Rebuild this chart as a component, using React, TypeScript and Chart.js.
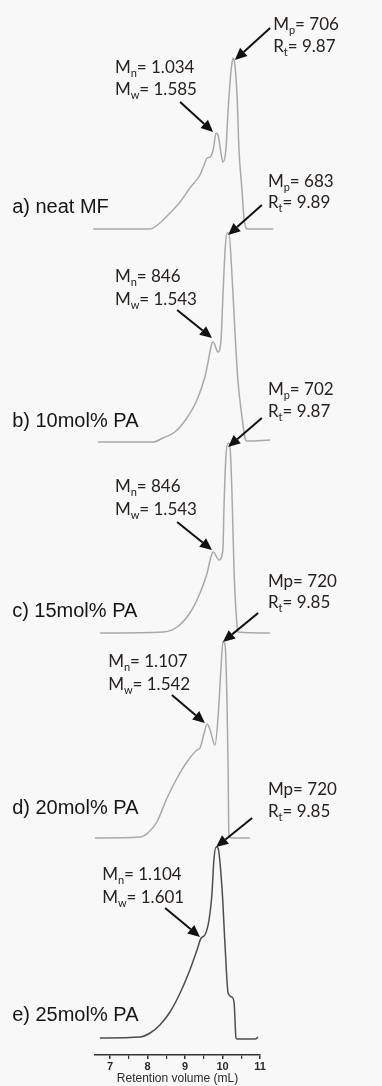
import { useEffect, useRef } from 'react';
import { Chart, registerables } from 'chart.js';

Chart.register(...registerables);

// ---- data (retention volume in mL, detector signal in arbitrary units) ----
const volA = [6.55, 8.07, 8.33, 8.6, 8.87, 9.13, 9.4, 9.53, 9.59, 9.67, 9.75, 9.83, 9.88, 9.96, 10.01, 10.09, 10.15, 10.23, 10.28, 10.31, 10.39, 10.44, 10.52, 10.57, 10.63, 10.68, 11.35];
const sigA = [0, 0, 6, 16, 27, 41, 54, 66, 71, 72, 79, 96, 94, 76, 67, 79, 119, 159, 171, 169, 132, 79, 39, 12, 1, 0, 0];

const volB = [6.68, 8.15, 8.41, 8.73, 9.05, 9.32, 9.53, 9.61, 9.72, 9.75, 9.88, 9.96, 10.01, 10.07, 10.12, 10.17, 10.25, 10.33, 10.41, 10.52, 10.6, 10.65, 11.27];
const sigB = [0, 0, 4, 10, 24, 42, 65, 79, 99, 100, 90, 102, 145, 192, 209, 209, 169, 112, 62, 25, 4, 1, 2];

const volC = [6.73, 8.41, 8.79, 9.13, 9.4, 9.59, 9.69, 9.75, 9.91, 10.01, 10.04, 10.09, 10.15, 10.2, 10.25, 10.31, 10.39, 10.41, 11.27];
const sigC = [0, 1, 6, 20, 40, 60, 76, 81, 73, 83, 126, 176, 190, 186, 143, 60, 6, 1, 0];

const volD = [6.6, 7.8, 8.01, 8.25, 8.52, 8.79, 9.05, 9.32, 9.4, 9.51, 9.59, 9.67, 9.8, 9.88, 9.96, 10.01, 10.07, 10.12, 10.15, 10.17, 10.25, 10.73];
const sigD = [0, 1, 5, 16, 40, 60, 76, 88, 90, 105, 114, 108, 93, 120, 170, 196, 193, 136, 70, 3, 0, 0];

const volE = [6.73, 7.8, 8.07, 8.33, 8.6, 8.87, 9.13, 9.32, 9.43, 9.53, 9.64, 9.72, 9.77, 9.83, 9.88, 9.99, 10.07, 10.15, 10.25, 10.31, 10.36, 10.39, 10.87, 10.95];
const sigE = [0, 1, 5, 13, 26, 45, 68, 88, 100, 103, 118, 145, 178, 191, 190, 148, 91, 45, 41, 35, 0, -1, -1, 1];

const sampleNames = ['a) neat MF', 'b) 10mol% PA', 'c) 15mol% PA', 'd) 20mol% PA', 'e) 25mol% PA'];
const mpValues = ['706', '683', '702', '720', '720'];
const mpSubscript = [true, true, true, false, false];
const rtValues = ['9.87', '9.89', '9.87', '9.85', '9.85'];
const mnValues = ['1.034', '846', '846', '1.107', '1.104'];
const mwValues = ['1.585', '1.543', '1.543', '1.542', '1.601'];

const majorTicks = [7, 8, 9, 10, 11];
const minorTicks = [7.5, 8.5, 9.5, 10.5];

// ---- layout (vertical stacking offsets and annotation anchors, in data units) ----
const traceOffsets = [826, 613, 422, 217, 17];
const traceColors = ['#a9a9a9', '#a9a9a9', '#a9a9a9', '#a9a9a9', '#4d4d4d'];

const nameAnchor = { x: 4.39, y: [848, 634, 444, 247, 40] };
// [textX, line1Y, line2Y, tailX, tailY, tipX, tipY]
const mpAnchors = [
  [11.35, 1030, 1008, 11.27, 1027, 10.33, 995],
  [11.21, 873, 852, 11.05, 850, 10.15, 820],
  [11.21, 665, 643, 11.05, 637, 10.15, 608],
  [11.21, 473, 452, 10.95, 442, 10.01, 413],
  [11.21, 265, 243, 10.79, 237, 9.83, 208],
];
const mnAnchors = [
  [7.13, 987, 965, 8.87, 953, 9.75, 923],
  [7.13, 778, 755, 8.79, 745, 9.72, 717],
  [7.13, 568, 545, 8.79, 533, 9.72, 505],
  [6.95, 393, 370, 8.65, 360, 9.53, 332],
  [6.79, 180, 157, 8.47, 147, 9.4, 118],
];

const vols = [volA, volB, volC, volD, volE];
const sigs = [sigA, sigB, sigC, sigD, sigE];

const NOTE_FONT = '"Lato", "Liberation Sans", sans-serif';
const NOTE_COLOR = '#26221f';

type Seg = [string, boolean];

function drawRich(ctx: CanvasRenderingContext2D, x: number, y: number, segs: Seg[]) {
  let cx = x;
  ctx.textBaseline = 'middle';
  ctx.textAlign = 'left';
  for (const [t, sub] of segs) {
    ctx.font = sub ? `11px ${NOTE_FONT}` : `17px ${NOTE_FONT}`;
    ctx.fillText(t, cx, sub ? y + 5 : y);
    cx += ctx.measureText(t).width;
  }
}

function drawArrow(ctx: CanvasRenderingContext2D, x1: number, y1: number, x2: number, y2: number) {
  const ang = Math.atan2(y2 - y1, x2 - x1);
  const hl = 12;
  const hw = 5.5;
  const bx = x2 - hl * Math.cos(ang);
  const by = y2 - hl * Math.sin(ang);
  ctx.beginPath();
  ctx.moveTo(x1, y1);
  ctx.lineTo(bx, by);
  ctx.stroke();
  ctx.beginPath();
  ctx.moveTo(x2, y2);
  ctx.lineTo(bx + hw * Math.sin(ang), by - hw * Math.cos(ang));
  ctx.lineTo(bx - hw * Math.sin(ang), by + hw * Math.cos(ang));
  ctx.closePath();
  ctx.fill();
}

const bgPlugin = {
  id: 'bg',
  beforeDraw(chart: any) {
    const { ctx, width, height } = chart;
    ctx.save();
    ctx.fillStyle = '#f8f8f8';
    ctx.fillRect(0, 0, width, height);
    ctx.restore();
  },
};

const notesPlugin = {
  id: 'notes',
  afterDatasetsDraw(chart: any) {
    const { ctx } = chart;
    const xs = chart.scales.x;
    const ys = chart.scales.y;
    const px = (v: number) => xs.getPixelForValue(v);
    const py = (v: number) => ys.getPixelForValue(v);
    ctx.save();
    for (let i = 0; i < 5; i++) {
      // sample name
      ctx.fillStyle = '#161616';
      ctx.font = '20px "Liberation Sans", Arial, sans-serif';
      ctx.textBaseline = 'middle';
      ctx.textAlign = 'left';
      ctx.fillText(sampleNames[i], px(nameAnchor.x), py(nameAnchor.y[i]));

      ctx.fillStyle = NOTE_COLOR;
      const m = mpAnchors[i];
      const mpSegs: Seg[] = mpSubscript[i]
        ? [['M', false], ['p', true], ['= ' + mpValues[i], false]]
        : [['Mp= ' + mpValues[i], false]];
      drawRich(ctx, px(m[0]), py(m[1]), mpSegs);
      drawRich(ctx, px(m[0]), py(m[2]), [['R', false], ['t', true], ['= ' + rtValues[i], false]]);

      const n = mnAnchors[i];
      drawRich(ctx, px(n[0]), py(n[1]), [['M', false], ['n', true], ['= ' + mnValues[i], false]]);
      drawRich(ctx, px(n[0]), py(n[2]), [['M', false], ['w', true], ['= ' + mwValues[i], false]]);

      ctx.strokeStyle = '#111';
      ctx.fillStyle = '#111';
      ctx.lineWidth = 2;
      drawArrow(ctx, px(m[3]), py(m[4]), px(m[5]), py(m[6]));
      drawArrow(ctx, px(n[3]), py(n[4]), px(n[5]), py(n[6]));
    }
    ctx.restore();
  },
};

export default function App() {
  const ref = useRef<HTMLCanvasElement>(null);
  useEffect(() => {
    const canvas = ref.current;
    if (!canvas) return;
    const datasets = vols.map((v, i) => ({
      data: v.map((x, j) => ({ x, y: sigs[i][j] + traceOffsets[i] })),
      borderColor: traceColors[i],
      borderWidth: 1.5,
      pointRadius: 0,
      fill: false,
      cubicInterpolationMode: 'monotone' as const,
      clip: false as any,
    }));
    const chart = new Chart(canvas, {
      type: 'line',
      data: { datasets },
      options: {
        responsive: false,
        animation: false,
        layout: { padding: { left: 95, right: 122, top: 55, bottom: 0 } },
        plugins: { legend: { display: false }, tooltip: { enabled: false } },
        scales: {
          x: {
            type: 'linear',
            min: 6.6,
            max: 11,
            afterBuildTicks: (s: any) => {
              s.ticks = [...majorTicks, ...minorTicks].sort((a, b) => a - b).map((v) => ({ value: v }));
            },
            afterFit: (s: any) => {
              s.height = 31;
            },
            ticks: {
              autoSkip: false,
              maxRotation: 0,
              padding: 1,
              color: '#2a2a2a',
              font: { family: '"Liberation Sans", Arial, sans-serif', size: 11, weight: 'bold' },
              callback: (val: any) => (majorTicks.includes(Number(val)) ? String(val) : ''),
            },
            grid: {
              drawOnChartArea: false,
              drawTicks: true,
              tickLength: 4,
              color: '#333',
              lineWidth: (c: any) => (majorTicks.includes(c.tick?.value) ? 1.5 : 1.2),
            },
            border: { display: true, color: '#333', width: 1.5 },
            title: {
              display: true,
              text: 'Retention volume (mL)',
              color: '#2a2a2a',
              font: { family: '"Liberation Sans", Arial, sans-serif', size: 12 },
              padding: { top: 0, bottom: 0 },
            },
          },
          y: { display: false, min: 0, max: 1000 },
        },
      },
      plugins: [bgPlugin, notesPlugin],
    });
    return () => chart.destroy();
  }, []);
  return (
    <div style={{ position: 'absolute', left: 0, top: 0, width: 382, height: 1086 }}>
      <canvas ref={ref} width={382} height={1086} style={{ display: 'block' }} />
    </div>
  );
}
